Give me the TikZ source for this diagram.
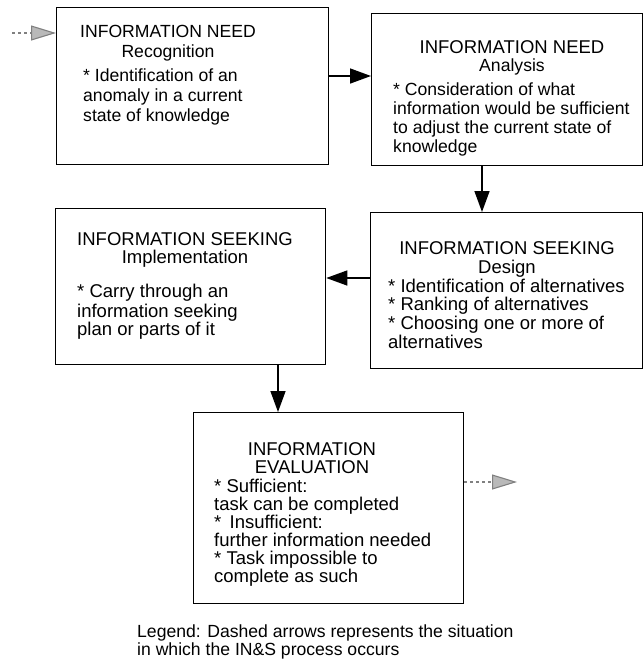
\documentclass[tikz,border=0pt]{standalone}
\usepackage{fontspec}
\setmainfont{Liberation Sans}
\usetikzlibrary{arrows.meta}
\begin{document}
\begin{tikzpicture}[x=1pt,y=-1pt,
  box/.style={draw, line width=1.3pt, inner sep=0pt, anchor=north west},
  txt/.style={font=\fontsize{17.6}{20}\selectfont, inner sep=0pt, anchor=base west},
  ttl/.style={txt, anchor=base},
  big/.style={font=\fontsize{18.5}{20}\selectfont},
  arr/.style={line width=1.5pt, -{Triangle[length=21pt,width=15pt]}},
  garr/.style={draw=gray, line width=1.1pt, dashed, -{Triangle[length=25pt,width=15pt,fill=gray!55]}}]
\useasboundingbox (0,0) rectangle (644,662);

% boxes
\node[box, minimum width=272pt, minimum height=157pt] (b1) at (56,7) {};
\node[box, minimum width=271pt, minimum height=152pt] (b2) at (371,13) {};
\node[box, minimum width=270pt, minimum height=156pt] (b3) at (55,208) {};
\node[box, minimum width=272pt, minimum height=156pt] (b4) at (370,212) {};
\node[box, minimum width=270pt, minimum height=191pt] (b5) at (193,412) {};

% box 1
\node[ttl] (t1a) at (168,37) {INFORMATION NEED};
\node[ttl] (t1b) at (168,57) {Recognition};
\node[txt] (t1c) at (83,81) {* Identification of an};
\node[txt] (t1d) at (83,101) {anomaly in a current};
\node[txt] (t1e) at (83,121) {state of knowledge};

% box 2
\node[ttl, big] (t2a) at (512,53) {INFORMATION NEED};
\node[ttl] (t2b) at (512,71) {Analysis};
\node[txt] (t2c) at (393,95) {* Consideration of what};
\node[txt] (t2d) at (393,114) {information would be sufficient};
\node[txt] (t2e) at (393,133) {to adjust the current state of};
\node[txt] (t2f) at (393,152) {knowledge};

% box 3
\node[ttl, big] (t3a) at (185,245) {INFORMATION SEEKING};
\node[ttl, big] (t3b) at (185,263) {Implementation};
\node[txt, big] (t3c) at (77,297) {* Carry through an};
\node[txt, big] (t3d) at (77,317) {information seeking};
\node[txt, big] (t3e) at (77,335) {plan or parts of it};

% box 4
\node[ttl, big] (t4a) at (507,254) {INFORMATION SEEKING};
\node[ttl, big] (t4b) at (507,273) {Design};
\node[txt, big] (t4c) at (388,292) {* Identification of alternatives};
\node[txt, big] (t4d) at (388,310) {* Ranking of alternatives};
\node[txt, big] (t4e) at (388,329) {* Choosing one or more of};
\node[txt, big] (t4f) at (388,348) {alternatives};

% box 5
\node[ttl, big] (t5a) at (312,455) {INFORMATION};
\node[ttl, big] (t5b) at (312,473) {EVALUATION};
\node[txt, big] (t5c) at (214,492) {* Sufficient:};
\node[txt, big] (t5d) at (214,510) {task can be completed};
\node[txt, big] (t5e) at (214,528) {* \,Insufficient:};
\node[txt, big] (t5f) at (214,546) {further information needed};
\node[txt, big] (t5g) at (214,564) {* Task impossible to};
\node[txt, big] (t5h) at (214,582) {complete as such};

% legend
\node[txt] (lg1) at (137,637) {Legend: Dashed arrows represents the situation};
\node[txt] (lg2) at (137,655) {in which the IN\&S process occurs};

% helper coordinates
\coordinate (start) at (12,33);
\coordinate (y12) at (0,76);
\coordinate (x24) at (482,0);
\coordinate (y43) at (0,278);
\coordinate (x35) at (278,0);
\coordinate (y5) at (0,482);
\coordinate (finish) at (517,482);

% connectors
\draw[garr] (start) -- (start -| b1.west);
\draw[arr] (b1.east |- y12) -- (b2.west |- y12);
\draw[arr] (x24 |- b2.south) -- (x24 |- b4.north);
\draw[arr] (b4.west |- y43) -- (b3.east |- y43);
\draw[arr] (x35 |- b3.south) -- (x35 |- b5.north);
\draw[garr] (b5.east |- y5) -- (finish);
\end{tikzpicture}
\end{document}
